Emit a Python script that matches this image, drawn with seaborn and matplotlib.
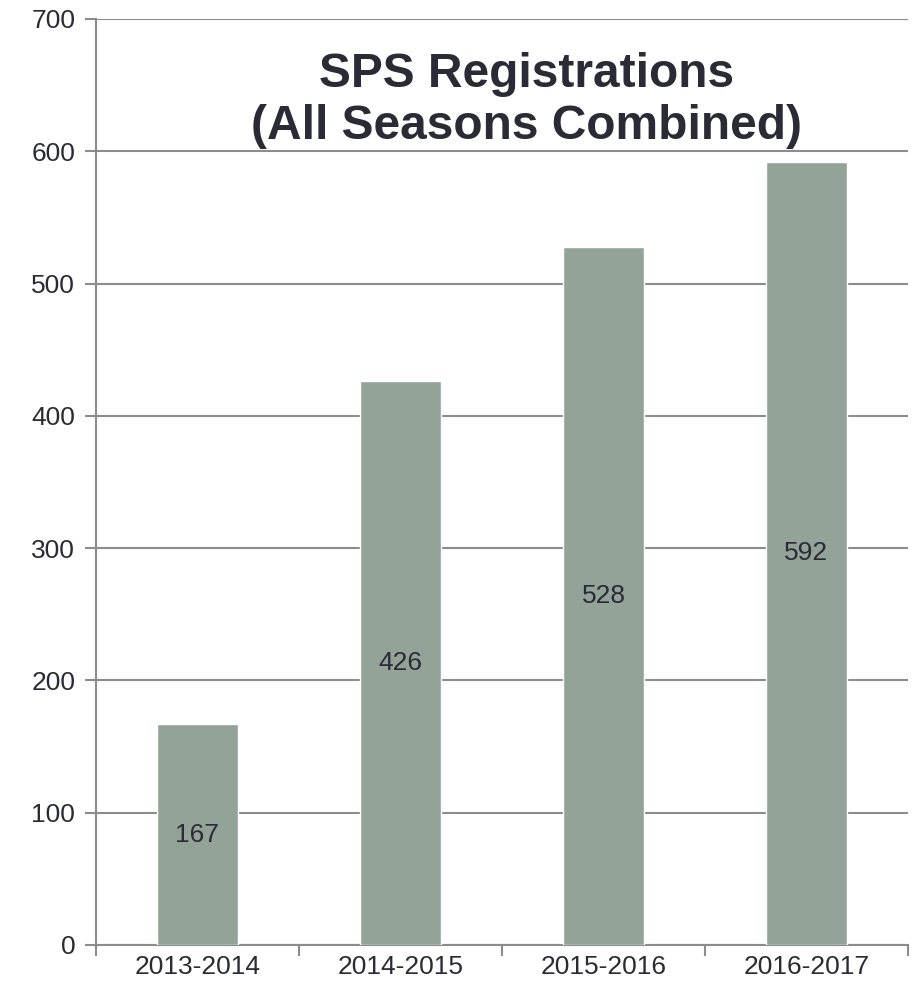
import matplotlib
matplotlib.use('Agg')
import matplotlib.pyplot as plt
import seaborn as sns
import pandas as pd

seasons = ['2013-2014', '2014-2015', '2015-2016', '2016-2017']
registrations = [167, 426, 528, 592]

BAR_COLOR = '#93a397'
TEXT_COLOR = '#2b2b36'
GRID_COLOR = '#8c8c8c'

sns.set_style('white')
plt.rcParams['font.family'] = ['Liberation Sans', 'DejaVu Sans']

df = pd.DataFrame({'season': seasons, 'count': registrations})

fig = plt.figure(figsize=(9.2, 9.9), dpi=100)
ax = fig.add_axes([96 / 920, 1 - 945 / 990, (908 - 96) / 920, (945 - 19) / 990])

sns.barplot(data=df, x='season', y='count', color=BAR_COLOR, width=0.4,
            saturation=1, ax=ax, zorder=3)

ax.set_ylim(0, 700)
ax.set_xlim(-0.5, len(seasons) - 0.5)
ax.set_yticks(range(0, 701, 100))
ax.yaxis.grid(True, color=GRID_COLOR, linewidth=1.5, zorder=0)
ax.set_axisbelow(True)

for side in ['top', 'right']:
    ax.spines[side].set_visible(False)
for side in ['left', 'bottom']:
    ax.spines[side].set_color(GRID_COLOR)
    ax.spines[side].set_linewidth(1.5)

ax.tick_params(axis='y', left=True, length=8, width=1.5, color=GRID_COLOR,
               labelsize=19, labelcolor=TEXT_COLOR, pad=7)
# x ticks sit on the category boundaries
ax.set_xticks([i - 0.5 for i in range(len(seasons) + 1)], minor=False)
ax.set_xticklabels([])
ax.set_xticks(range(len(seasons)), minor=True)
ax.set_xticklabels(seasons, minor=True)
ax.tick_params(axis='x', which='major', bottom=True, length=8, width=1.5,
               color=GRID_COLOR)
ax.tick_params(axis='x', which='minor', bottom=True, length=0, labelsize=19,
               labelcolor=TEXT_COLOR, pad=7)
ax.set_xlabel('')
ax.set_ylabel('')

for i, v in enumerate(registrations):
    ax.text(i, v / 2, str(v), ha='center', va='center', fontsize=19,
            color=TEXT_COLOR, zorder=4)

ax.text(0.53, 0.912, 'SPS Registrations\n(All Seasons Combined)',
        transform=ax.transAxes, ha='center', va='center', fontsize=34.5,
        fontweight='bold', color=TEXT_COLOR, linespacing=1.2, zorder=5)

fig.savefig('out.png', dpi=100)
